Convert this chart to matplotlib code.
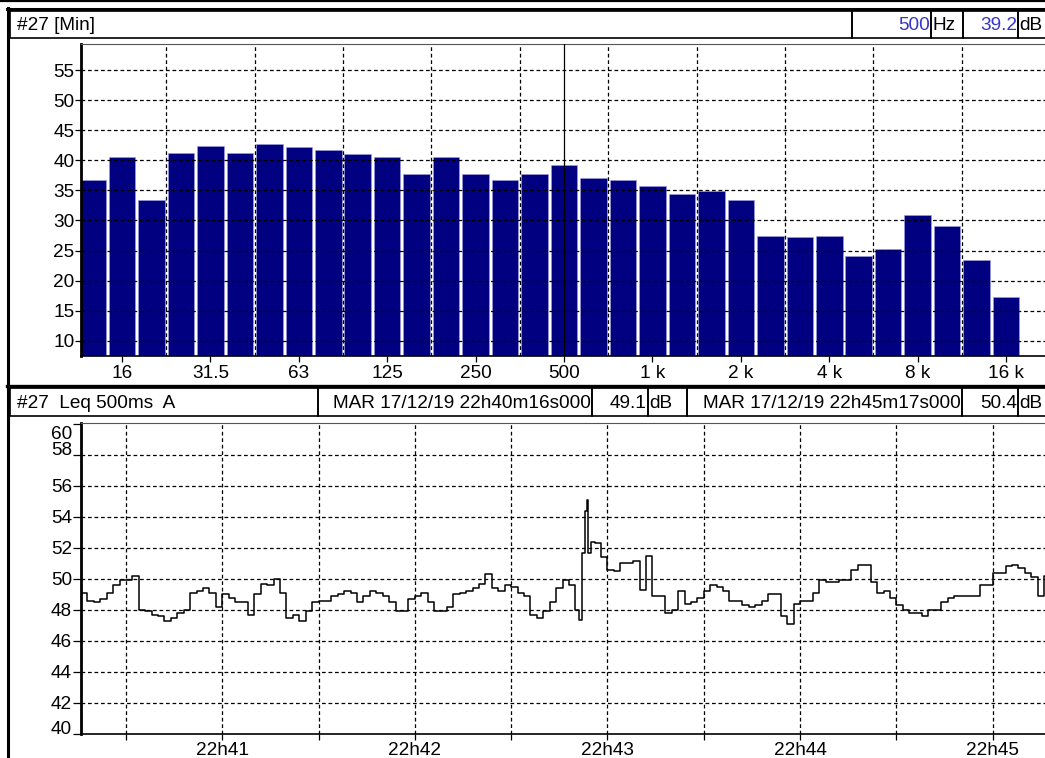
import matplotlib.pyplot as plt
import numpy as np
from matplotlib.patches import Rectangle
from matplotlib.transforms import ScaledTranslation

plt.rcParams['font.family'] = ['Liberation Sans', 'DejaVu Sans']
plt.rcParams['font.size'] = 13.7

# 1/3 octave spectrum [Min]
bands = [12.5, 16, 20, 25, 31.5, 40, 50, 63, 80, 100, 125, 160, 200, 250, 315,
         400, 500, 630, 800, 1000, 1250, 1600, 2000, 2500, 3150, 4000, 5000,
         6300, 8000, 10000, 12500, 16000]
band_levels = [36.7, 40.5, 33.4, 41.3, 42.4, 41.3, 42.7, 42.2, 41.8, 41.1, 40.6,
               37.7, 40.6, 37.7, 36.7, 37.7, 39.2, 37.0, 36.7, 35.7, 34.4, 34.9,
               33.4, 27.5, 27.2, 27.5, 24.1, 25.2, 30.9, 29.0, 23.4, 17.2]
band_ticks = [16, 31.5, 63, 125, 250, 500, 1000, 2000, 4000, 8000, 16000]
band_tick_labels = ['16', '31.5', '63', '125', '250', '500', '1 k', '2 k', '4 k', '8 k', '16 k']
cursor_band = 500

# Leq 500ms A, seconds after 22h40m16s
t_sec = [0, 2, 4, 6, 8, 10, 12, 14, 16, 18, 20, 22, 24, 26, 28, 30, 32, 34, 36, 38,
         40, 42, 44, 46, 48, 50, 52, 54, 56, 58, 60, 62, 64, 66, 68, 70, 72, 74, 76, 78,
         80, 82, 84, 86, 88, 90, 92, 94, 96, 98, 100, 102, 104, 106, 108, 110, 112, 114,
         116, 118, 120, 122, 124, 126, 128, 130, 132, 134, 136, 138, 140, 142, 144, 146,
         148, 150, 152, 154, 155, 156, 157, 157.5, 158, 159, 160, 162, 164, 166, 168,
         170, 172, 174, 176, 178, 180, 182, 184, 186, 188, 190, 192, 194, 196, 198, 200,
         202, 204, 206, 208, 210, 212, 214, 216, 218, 220, 222, 224, 226, 228, 230, 232,
         234, 236, 238, 240, 242, 244, 246, 248, 250, 252, 254, 256, 258, 260, 262, 264,
         266, 268, 270, 272, 274, 276, 278, 280, 282, 284, 286, 288, 290, 292, 294, 296,
         298, 300, 301]
leq = [49.1, 48.6, 48.5, 48.7, 49.1, 49.6, 49.9, 49.9, 50.2, 48.0, 47.9, 47.7, 47.6, 47.3,
       47.5, 47.8, 48.0, 49.1, 49.2, 49.4, 49.1, 48.2, 49.0, 48.8, 48.5, 48.5, 47.7, 49.0,
       49.7, 49.6, 50.0, 49.1, 47.5, 47.7, 47.3, 47.9, 48.5, 48.6, 48.6, 48.9, 49.0, 49.2,
       49.1, 48.5, 48.9, 49.2, 49.1, 48.9, 48.5, 47.9, 47.9, 48.7, 48.9, 49.1, 48.5, 47.9,
       47.9, 48.2, 49.0, 49.1, 49.2, 49.4, 49.7, 50.3, 49.4, 49.2, 49.6, 49.5, 49.1, 48.9,
       47.7, 47.5, 47.9, 48.5, 49.4, 49.9, 49.6, 48.0, 47.35, 51.7, 54.4, 55.1, 51.7, 52.4,
       52.3, 51.4, 50.6, 50.5, 51.0, 51.0, 51.15, 49.3, 51.5, 48.9, 48.9, 47.8, 48.0, 49.2,
       48.4, 48.5, 48.8, 49.2, 49.6, 49.5, 49.2, 48.6, 48.6, 48.3, 48.2, 48.3, 48.6, 49.0,
       49.0, 47.6, 47.1, 48.4, 48.6, 48.6, 49.1, 49.9, 49.8, 49.8, 49.9, 49.9, 50.6, 50.9,
       50.9, 49.8, 49.1, 49.2, 48.8, 48.3, 48.0, 47.8, 47.8, 47.6, 48.0, 48.0, 48.5, 48.8,
       48.9, 48.9, 48.9, 48.9, 49.6, 49.6, 50.4, 50.4, 50.8, 50.9, 50.7, 50.4, 50.1, 48.9,
       50.2, 50.4]
start_label = 'MAR 17/12/19 22h40m16s000'
end_label = 'MAR 17/12/19 22h45m17s000'
start_clock = 22 * 3600 + 40 * 60 + 16

W, H = 1045, 758
fig = plt.figure(figsize=(W / 100, H / 100), dpi=100)
fig.patch.set_facecolor('white')


def rect(x0, y0, x1, y1):
    # pixel box (top-left origin) -> figure fraction
    return [x0 / W, 1 - y1 / H, (x1 - x0) / W, (y1 - y0) / H]


grid_kw = dict(color='black', lw=0.9, ls=(0, (3, 2.2)))
blue = '#3535c8'

# ---- top: spectrum ----
ax1 = fig.add_axes(rect(81, 43.5, 1045, 355.7))
idx = np.arange(len(bands))
ax1.bar(idx, band_levels, width=0.9, color='#000080', edgecolor='#a0a0e0',
        linewidth=0.4, zorder=1)
ax1.set_xlim(-0.39, 32.32)
ax1.set_ylim(7.5, 59.45)
for y in range(10, 60, 5):
    ax1.axhline(y, zorder=3, **grid_kw)
for b in np.arange(2.5, len(bands), 3):
    ax1.axvline(b, zorder=3, **grid_kw)
ax1.axvline(bands.index(cursor_band), color='black', lw=0.9, zorder=4)
ax1.set_xticks([bands.index(b) for b in band_ticks])
ax1.set_xticklabels(band_tick_labels)
ax1.set_yticks(range(10, 60, 5))
ax1.tick_params(axis='x', length=4, width=0.9, pad=2.5)
ax1.tick_params(axis='y', length=4.3, width=0.9, pad=0.5)
ax1.spines['right'].set_visible(False)
ax1.spines['left'].set_linewidth(2)
ax1.spines['bottom'].set_linewidth(1.2)
ax1.spines['top'].set_linewidth(0.8)
ax1.spines['top'].set_color('#555555')

# ---- bottom: time history ----
ax2 = fig.add_axes(rect(81, 423, 1045, 734))
ax2.step(t_sec, leq, where='post', color='black', lw=1.1, zorder=4)
ax2.set_xlim(0, 300.3)
ax2.set_ylim(40, 60.05)
for y in range(42, 60, 2):
    ax2.axhline(y, zorder=3, **grid_kw)
first = (start_clock // 30 + 1) * 30
grid_t = [s - start_clock for s in range(first, start_clock + 302, 30)]
for t in grid_t:
    ax2.axvline(t, zorder=3, **grid_kw)
ax2.set_xticks(grid_t)
labels = []
for t in grid_t:
    s = t + start_clock
    labels.append(f'{s // 3600}h{(s % 3600) // 60:02d}' if s % 60 == 0 else '')
ax2.set_xticklabels(labels)
ax2.set_yticks(range(40, 61, 2))
ax2.tick_params(axis='x', length=4, width=0.9, pad=2)
ax2.tick_params(axis='y', length=6, width=0.9, pad=0.5)
ax2.spines['right'].set_visible(False)
ax2.spines['left'].set_linewidth(2)
ax2.spines['bottom'].set_linewidth(1.2)
ax2.spines['top'].set_linewidth(0.8)
ax2.spines['top'].set_color('#555555')
shift = {60: -9, 58: 6, 40: 6}
for lab in ax2.get_yticklabels():
    v = round(lab.get_position()[1])
    if v in shift:
        lab.set_transform(lab.get_transform() +
                          ScaledTranslation(0, shift[v] / 100, fig.dpi_scale_trans))

# ---- frames and header boxes (pixel coordinates) ----
ov = fig.add_axes([0, 0, 1, 1])
ov.set_xlim(0, W)
ov.set_ylim(H, 0)
ov.axis('off')
ov.plot([0, W], [1, 1], color='black', lw=1.6)
ov.plot([7, W], [9, 9], color='black', lw=2.2)
ov.plot([7, W], [385.5, 385.5], color='black', lw=2.4)
ov.plot([8, 8], [8, H], color='black', lw=2.2)


def hbox(x0, x1, y0, y1, text='', align='left', color='black'):
    ov.add_patch(Rectangle((x0, y0), x1 - x0, y1 - y0, fill=False,
                           edgecolor='black', lw=1.2))
    if text:
        xt = x0 + 7 if align == 'left' else x1 - 1
        ov.text(xt, (y0 + y1) / 2 + 1, text, ha=align, va='center', color=color)


hbox(10, 852, 11, 38, '#27 [Min]')
hbox(852, 931, 11, 38, f'{cursor_band}', align='right', color=blue)
hbox(931, 963, 11, 38)
ov.text(932, 25.5, 'Hz', ha='left', va='center')
hbox(963, 1018, 11, 38, f'{band_levels[bands.index(cursor_band)]:.1f}', align='right', color=blue)
hbox(1018, 1050, 11, 38)
ov.text(1019, 25.5, 'dB', ha='left', va='center')

hbox(10, 318, 388, 416, '#27  Leq 500ms  A')
hbox(318, 592, 388, 416, start_label, align='right')
hbox(592, 648, 388, 416, f'{leq[0]:.1f}', align='right')
hbox(648, 687, 388, 416)
ov.text(649, 403, 'dB', ha='left', va='center')
hbox(687, 962, 388, 416, end_label, align='right')
hbox(962, 1018, 388, 416, f'{leq[-1]:.1f}', align='right')
hbox(1018, 1050, 388, 416)
ov.text(1019, 403, 'dB', ha='left', va='center')

fig.savefig('out.png', dpi=100)
